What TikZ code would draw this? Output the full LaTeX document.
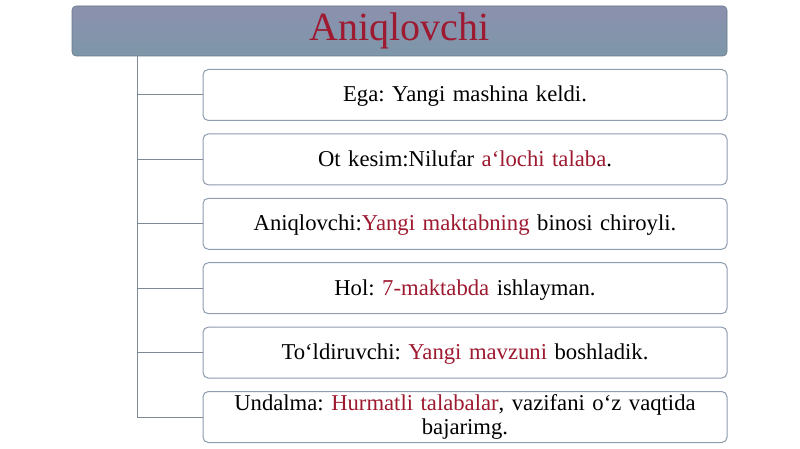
\documentclass[tikz,border=0pt]{standalone}
\usepackage{fontspec}
\setmainfont{Liberation Serif}
\usetikzlibrary{positioning}
\definecolor{headtop}{HTML}{8C90AE}
\definecolor{headbot}{HTML}{7D97A9}
\definecolor{wine}{HTML}{9E1A30}
\definecolor{rim}{HTML}{8E9CB0}
\definecolor{stem}{HTML}{7F8A98}
\tikzset{head/.style={rounded corners=3pt, top color=headtop, bottom color=headbot, draw=headbot!80!black, line width=0.4pt,
  minimum width=491.25pt, minimum height=37.5pt, inner sep=0pt, font=\fontsize{30}{34}\selectfont, text=wine}}
\tikzset{item/.style={draw=rim, rounded corners=4pt, fill=white, line width=0.75pt, minimum width=393pt, minimum height=38.25pt,
  inner sep=1pt, align=center, text width=385pt, font=\fontsize{17}{18.5}\selectfont}}
\tikzset{single/.style={item, text height=14.5pt, text depth=4pt}}
\tikzset{link/.style={draw=stem, line width=0.75pt}}
\newcommand{\hl}[1]{\textcolor{wine}{#1}}
\frenchspacing

\begin{document}
\begin{tikzpicture}[x=0.75pt,y=-0.75pt]
\useasboundingbox (0,0) rectangle (800,449);

\node[head] (title) at (399.5, 31) {\raisebox{-4pt}{Aniqlovchi}};

\node[single] (ega) at (465, 95) {Ega: Yangi mashina keldi.};
\node[single] (ot) [below=9.3pt of ega] {Ot kesim:Nilufar \hl{a‘lochi talaba}.};
\node[single] (aniq) [below=9.3pt of ot] {Aniqlovchi:\hl{Yangi maktabning} binosi chiroyli.};
\node[single] (hol) [below=9.3pt of aniq] {Hol: \hl{7-maktabda} ishlayman.};
\node[single] (tol) [below=9.3pt of hol] {To‘ldiruvchi: \hl{Yangi mavzuni} boshladik.};
\node[item] (und) [below=9.3pt of tol] {Undalma: \hl{Hurmatli talabalar}, vazifani o‘z vaqtida\\ bajarimg.};

\coordinate (trunk) at (137, 56);

\draw[link] (trunk) |- (und.west);
\draw[link] (trunk |- ega.west) -- (ega.west);
\draw[link] (trunk |- ot.west) -- (ot.west);
\draw[link] (trunk |- aniq.west) -- (aniq.west);
\draw[link] (trunk |- hol.west) -- (hol.west);
\draw[link] (trunk |- tol.west) -- (tol.west);
\end{tikzpicture}
\end{document}
